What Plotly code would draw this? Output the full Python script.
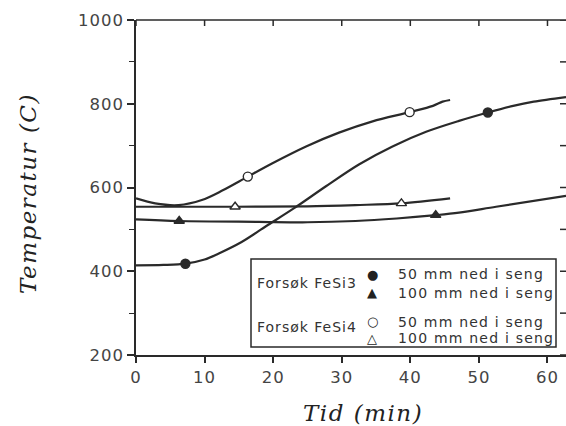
import plotly.graph_objects as go

# Temperature curves (time in min, temperature in C)
fesi3_50_t = [0, 4, 7.2, 10, 12, 15.4, 19, 23, 27.7, 32.5, 37.4, 42.3, 47.1, 51.3, 55, 58, 62.7]
fesi3_50_T = [414, 415, 418, 428, 442, 470, 508, 550, 603, 655, 698, 733, 759, 779, 795, 805, 816]
fesi3_50_mt = [7.2, 51.3]
fesi3_50_mT = [418, 779]

fesi3_100_t = [0, 6.3, 17.9, 25, 32, 38, 43.7, 47.1, 52.5, 62.7]
fesi3_100_T = [524, 520, 518, 517, 520, 526, 534, 540, 554, 580]
fesi3_100_mt = [6.3, 43.7]
fesi3_100_mT = [520, 534]

fesi4_50_t = [0, 2.8, 6.2, 9.6, 12.5, 16.3, 19.9, 24.8, 29.6, 34.5, 39.9, 43.3, 44.7, 45.8]
fesi4_50_T = [574, 562, 558, 570, 592, 626, 658, 698, 731, 758, 780, 795, 805, 809]
fesi4_50_mt = [16.3, 39.9]
fesi4_50_mT = [626, 780]

fesi4_100_t = [0, 14.45, 25, 32, 38.7, 45.8]
fesi4_100_T = [554, 554, 555, 558, 562, 574]
fesi4_100_mt = [14.45, 38.7]
fesi4_100_mT = [554, 562]

x_ticks = [0, 10, 20, 30, 40, 50, 60]
y_ticks = [200, 400, 600, 800, 1000]
y_minor = [300, 500, 700, 900]

group_labels = ["Forsøk FeSi3", "Forsøk FeSi4"]
series_labels = ["50 mm ned i seng", "100 mm ned i seng", "50 mm ned i seng", "100 mm ned i seng"]
series_symbols = ["●", "▲", "○", "△"]

INK = "#2a2a2a"
W, H = 566, 426
ML, MR, MT, MB = 136, 0, 20, 71
PW, PH = W - ML - MR, H - MT - MB


def px(x):
    return (x - ML) / PW


def py(y):
    return (H - MB - y) / PH


def spaced(s, sp):
    return f'<span style="letter-spacing:{sp}px">{s}</span>'


fig = go.Figure()

curves = [
    (fesi3_50_t, fesi3_50_T, fesi3_50_mt, fesi3_50_mT, "circle", INK),
    (fesi3_100_t, fesi3_100_T, fesi3_100_mt, fesi3_100_mT, "triangle-up", INK),
    (fesi4_50_t, fesi4_50_T, fesi4_50_mt, fesi4_50_mT, "circle", "white"),
    (fesi4_100_t, fesi4_100_T, fesi4_100_mt, fesi4_100_mT, "triangle-up", "white"),
]
for t, T, mt, mT, sym, fill in curves:
    fig.add_trace(go.Scatter(x=t, y=T, mode="lines",
                             line=dict(color=INK, width=2.2, shape="spline", smoothing=0.9),
                             showlegend=False, hoverinfo="skip"))
    fig.add_trace(go.Scatter(x=mt, y=mT, mode="markers",
                             marker=dict(symbol=sym, size=9, color=fill,
                                         line=dict(color=INK, width=1.4)),
                             showlegend=False, hoverinfo="skip"))

tick_font = dict(family="DejaVu Sans", size=16.5, color="#444")

fig.update_layout(
    width=W, height=H, autosize=False,
    margin=dict(l=ML, r=MR, t=MT, b=MB),
    plot_bgcolor="white", paper_bgcolor="white",
    xaxis=dict(range=[0, 62.7], tickvals=x_ticks, ticktext=[spaced(v, 1) for v in x_ticks],
               ticks="outside", ticklen=6, tickwidth=1.5,
               tickcolor=INK, showline=True, linewidth=1.5, linecolor=INK, showgrid=False,
               zeroline=False, tickfont=tick_font),
    yaxis=dict(range=[200, 1000], tickvals=y_ticks, ticktext=[spaced(v, 1) for v in y_ticks],
               ticks="outside", ticklen=7, tickwidth=1.5,
               tickcolor=INK, showline=True, linewidth=1.5, linecolor=INK, showgrid=False,
               zeroline=False, tickfont=tick_font,
               minor=dict(dtick=100, ticks="outside", ticklen=5, tickwidth=1.2, tickcolor=INK)),
)

# top frame line with inward ticks, and inward ticks on the right edge
fig.add_shape(type="line", xref="paper", yref="paper", x0=0, x1=1, y0=1, y1=1,
              line=dict(color=INK, width=1.5))
for v in x_ticks:
    fig.add_shape(type="line", xref="x", yref="paper", x0=v, x1=v, y0=1, y1=1 - 6 / PH,
                  line=dict(color=INK, width=1.5))
for v in y_ticks + y_minor:
    fig.add_shape(type="line", xref="paper", yref="y", x0=1, x1=1 - 6 / PW, y0=v, y1=v,
                  line=dict(color=INK, width=1.5))

# axis titles
title_font = dict(family="DejaVu Serif", size=23, color="#222", style="italic")
fig.add_annotation(text=spaced("Tid (min)", 1.5), x=px(363), y=py(413), xref="paper", yref="paper",
                   xanchor="center", yanchor="middle", showarrow=False, font=title_font)
fig.add_annotation(text=spaced("Temperatur (C)", 1.5), x=px(28), y=py(193), xref="paper",
                   yref="paper", xanchor="center", yanchor="middle", showarrow=False,
                   textangle=-90, font=title_font)

# legend box
fig.add_shape(type="rect", xref="paper", yref="paper", x0=px(251), x1=px(556), y0=py(259), y1=py(347),
              line=dict(color=INK, width=1.5), fillcolor="white")
leg_font = dict(family="DejaVu Sans", size=14, color="#333")
for lbl, yy in zip(group_labels, [283, 327]):
    fig.add_annotation(text=spaced(lbl, 1), x=px(255), y=py(yy), xref="paper", yref="paper",
                       xanchor="left", yanchor="middle", showarrow=False, font=leg_font)
for sym, lbl, yy in zip(series_symbols, series_labels, [274, 292.5, 321.5, 338]):
    fig.add_annotation(text=sym, x=px(372), y=py(yy), xref="paper", yref="paper",
                       xanchor="center", yanchor="middle", showarrow=False,
                       font=dict(family="DejaVu Sans", size=13, color="#222"))
    fig.add_annotation(text=spaced(lbl, 1.2), x=px(396), y=py(yy), xref="paper", yref="paper",
                       xanchor="left", yanchor="middle", showarrow=False, font=leg_font)

fig.write_html("out.html")
